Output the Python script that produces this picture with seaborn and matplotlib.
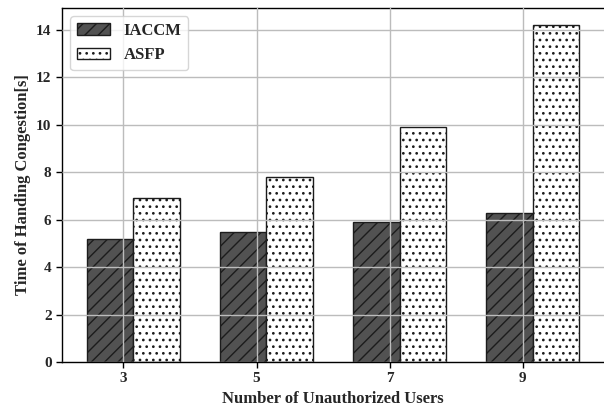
import pandas as pd
import matplotlib.pyplot as plt
import seaborn as sns
from matplotlib.patches import Patch

# values
users = ["3", "5", "7", "9"]
methods = ["IACCM", "ASFP"]
iaccm = [5.2, 5.5, 5.9, 6.3]
asfp = [6.9, 7.8, 9.9, 14.2]

df = pd.DataFrame({
    "users": users * 2,
    "time": iaccm + asfp,
    "method": ["IACCM"] * len(users) + ["ASFP"] * len(users),
})

# hatch size follows the dpi, so draw at 80 dpi and scale point sizes up
DPI = 80
k = 100 / DPI

sns.set_theme(style="white")
plt.rcParams["font.family"] = ["Liberation Serif", "DejaVu Serif"]
plt.rcParams["font.weight"] = "bold"
plt.rcParams["hatch.linewidth"] = 1.0 * k
plt.rcParams["hatch.color"] = "black"

colors = ["#525252", "white"]
hatches = ["//", ".."]
edge = "#1c1c1c"

fig = plt.figure(figsize=(604 / DPI, 410 / DPI), dpi=DPI)
ax = fig.add_axes([62 / 604, 48 / 410, 542 / 604, 354 / 410])

sns.barplot(data=df, x="users", y="time", hue="method", hue_order=methods,
            palette=colors, saturation=1, width=0.7, edgecolor=edge,
            linewidth=1.0 * k, legend=False, ax=ax)

for cont, h in zip(ax.containers, hatches):
    for bar in cont:
        bar.set_hatch(h)
        if hasattr(bar, "set_hatchcolor"):
            bar.set_hatchcolor("black")

ax.set_xticks([i - 0.075 for i in range(len(users))], users)
ax.set_xlim(-0.536, 3.535)
ax.set_ylim(0, 14.93)
ax.set_yticks(range(0, 15, 2))

ax.grid(True, color="#bcbcbc", linewidth=1 * k)
ax.set_axisbelow(False)
ax.spines["right"].set_visible(False)
for s in ["left", "top", "bottom"]:
    ax.spines[s].set_color("black")
    ax.spines[s].set_linewidth(1 * k)
ax.tick_params(axis="both", direction="out", length=4 * k, width=1 * k,
               color="black", labelsize=11 * k, bottom=True, left=True,
               pad=3.5 * k)

ax.set_xlabel("Number of Unauthorized Users", fontsize=12 * k,
              fontweight="bold", labelpad=4 * k)
ax.set_ylabel("Time of Handing Congestion[s]", fontsize=12 * k,
              fontweight="bold", labelpad=4 * k)

handles = []
for c, h, m in zip(colors, hatches, methods):
    p = Patch(facecolor=c, edgecolor=edge, hatch=h, label=m, linewidth=1.0 * k)
    if hasattr(p, "set_hatchcolor"):
        p.set_hatchcolor("black")
    handles.append(p)
leg = ax.legend(handles=handles, loc="upper left", fontsize=12 * k,
                frameon=True, framealpha=0.8, edgecolor="#cccccc",
                fancybox=True)
leg.get_frame().set_linewidth(1 * k)

fig.savefig("out.png", dpi=DPI)
